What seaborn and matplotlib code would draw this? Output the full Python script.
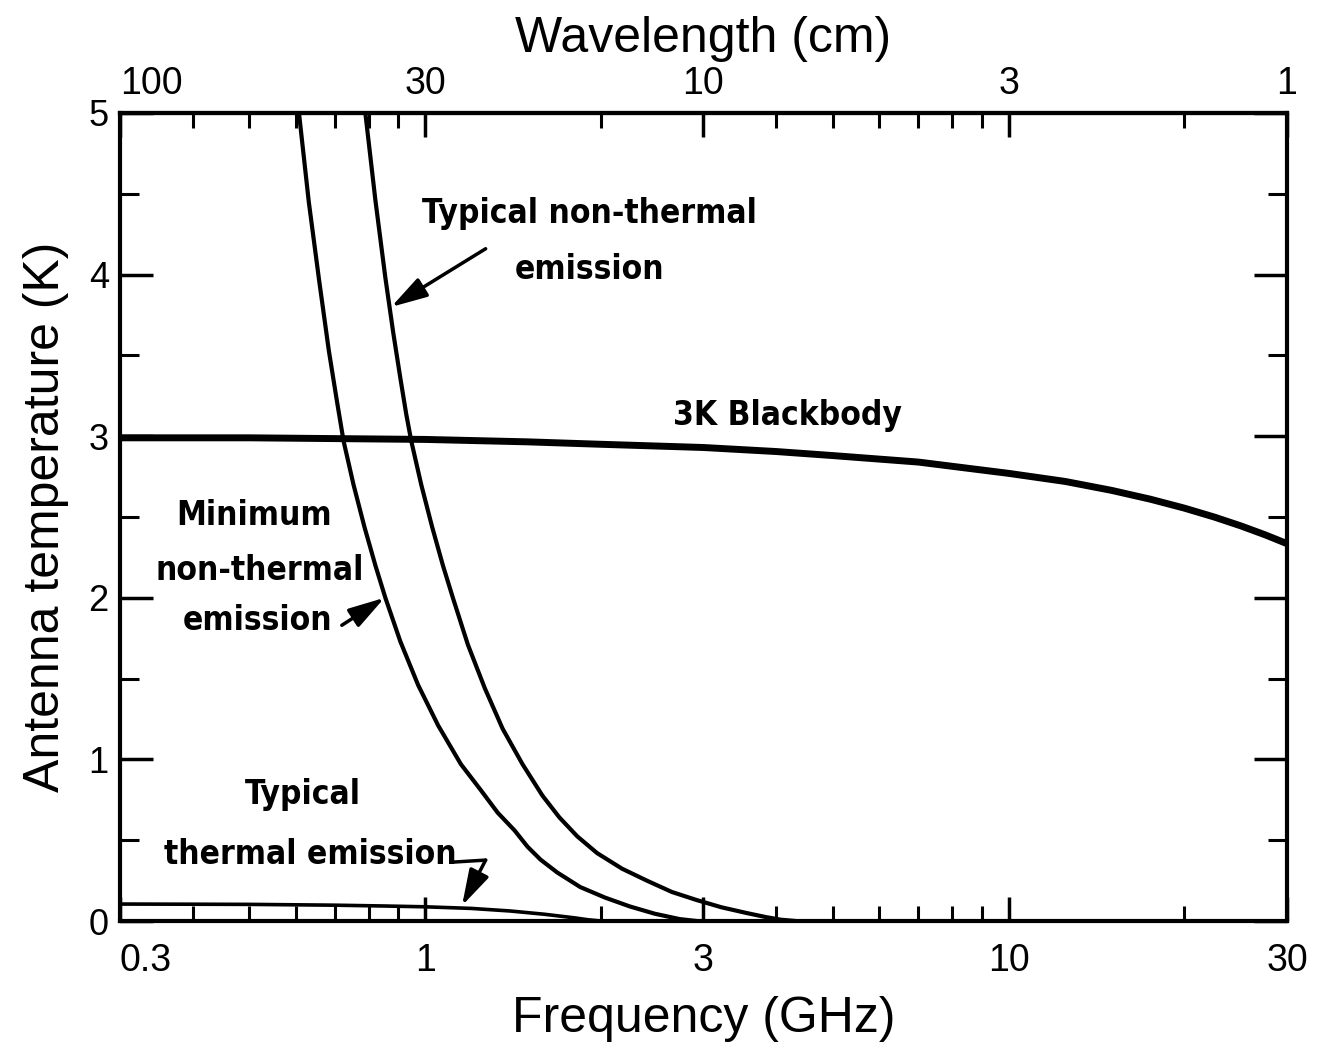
import numpy as np
import pandas as pd
import seaborn as sns
import matplotlib
matplotlib.use("Agg")
import matplotlib.pyplot as plt
from matplotlib import font_manager as fm
from matplotlib.ticker import FixedLocator, FixedFormatter, NullFormatter

# ---- data (frequency in GHz, antenna temperature in K) ----
freq_bb = [0.3, 0.5, 1.0, 1.5, 2.0, 3.0, 4.0, 5.0, 7.0, 10.0, 12.5, 15.0,
           17.5, 20.0, 22.5, 25.0, 27.5, 30.0]
temp_bb = [2.99, 2.99, 2.98, 2.965, 2.95, 2.93, 2.905, 2.88, 2.84, 2.77, 2.72,
           2.665, 2.61, 2.555, 2.50, 2.445, 2.39, 2.335]

freq_typ_nt = [0.790, 0.822, 0.855, 0.882, 0.907, 0.928, 0.947, 0.985, 1.028,
               1.073, 1.116, 1.184, 1.266, 1.358, 1.469, 1.589, 1.699, 1.823,
               1.972, 2.175, 2.399, 2.647, 2.919, 3.220, 3.551, 3.841, 4.074, 4.32]
temp_typ_nt = [5.0, 4.46, 3.98, 3.64, 3.36, 3.14, 2.97, 2.70, 2.44,
               2.20, 2.0, 1.71, 1.44, 1.19, 0.97, 0.776, 0.641, 0.524,
               0.42, 0.324, 0.25, 0.18, 0.13, 0.085, 0.05, 0.024, 0.008, 0.0]

freq_min_nt = [0.608, 0.632, 0.658, 0.684, 0.706, 0.725, 0.754, 0.787, 0.822,
               0.855, 0.907, 0.973, 1.053, 1.152, 1.246, 1.332, 1.424, 1.498,
               1.577, 1.685, 1.845, 2.034, 2.244, 2.476, 2.73, 2.92]
temp_min_nt = [5.0, 4.45, 3.97, 3.53, 3.22, 2.97, 2.70, 2.44, 2.20,
               2.0, 1.73, 1.46, 1.21, 0.97, 0.81, 0.67, 0.56, 0.46,
               0.38, 0.30, 0.21, 0.145, 0.09, 0.045, 0.012, 0.0]

freq_th = [0.3, 0.4, 0.5, 0.7, 0.85, 1.0, 1.2, 1.4, 1.6, 1.8, 1.9, 2.0]
temp_th = [0.105, 0.104, 0.103, 0.098, 0.093, 0.088, 0.078, 0.062, 0.042,
           0.02, 0.008, 0.0]

freq_ticks = [0.3, 1, 3, 10, 30]
freq_labels = ["0.3", "1", "3", "10", "30"]
freq_minor = [0.4, 0.5, 0.6, 0.7, 0.8, 0.9, 2, 4, 5, 6, 7, 8, 9, 20]

wl_ticks = [100, 30, 10, 3, 1]
wl_labels = ["100", "30", "10", "3", "1"]
wl_minor = [75, 60, 50, 30 / 0.7, 37.5, 30 / 0.9, 15, 7.5, 6, 5, 30 / 7, 3.75, 30 / 9, 1.5]

temp_ticks = [0, 1, 2, 3, 4, 5]
temp_minor = [0.5, 1.5, 2.5, 3.5, 4.5]

# ---- style ----
sns.set_theme(style="ticks")
plt.rcParams["font.family"] = ["Liberation Sans", "DejaVu Sans"]
plt.rcParams["axes.linewidth"] = 3.0


def narrow_bold_font():
    """Return a condensed/narrow bold face if one is installed."""
    best = None
    for f in fm.fontManager.ttflist:
        name = f.name.lower()
        narrow = ("narrow" in name or "condensed" in name or
                  str(f.stretch) in ("condensed", "semi-condensed",
                                     "extra-condensed", "ultra-condensed"))
        if not narrow:
            continue
        if "italic" in f.style or "oblique" in f.style:
            continue
        weight = f.weight if isinstance(f.weight, int) else (
            700 if "bold" in str(f.weight) else 400)
        score = abs(weight - 700)
        if best is None or score < best[0]:
            best = (score, f.fname)
    return best[1] if best else None


narrow_path = narrow_bold_font()
if narrow_path:
    note_font = fm.FontProperties(fname=narrow_path, size=24)
else:
    note_font = fm.FontProperties(family=["Liberation Sans", "DejaVu Sans"],
                                  weight="bold", size=23)

fig = plt.figure(figsize=(13.21, 10.49), dpi=100)
ax = fig.add_axes([0.0908, 0.1220, 0.8835, 0.7703])

curves = pd.concat([
    pd.DataFrame({"freq": freq_bb, "temp": temp_bb, "curve": "blackbody"}),
    pd.DataFrame({"freq": freq_typ_nt, "temp": temp_typ_nt, "curve": "typical_nt"}),
    pd.DataFrame({"freq": freq_min_nt, "temp": temp_min_nt, "curve": "minimum_nt"}),
    pd.DataFrame({"freq": freq_th, "temp": temp_th, "curve": "thermal"}),
])
widths = {"blackbody": 5.0, "typical_nt": 3.0, "minimum_nt": 3.0, "thermal": 2.6}
for name, sub in curves.groupby("curve", sort=False):
    sns.lineplot(data=sub, x="freq", y="temp", ax=ax, color="black",
                 linewidth=widths[name], estimator=None, legend=False)

ax.set_xscale("log")
ax.set_xlim(0.3, 30)
ax.set_ylim(0, 5)

# bottom frequency axis
ax.xaxis.set_major_locator(FixedLocator(freq_ticks))
ax.xaxis.set_major_formatter(FixedFormatter(freq_labels))
ax.xaxis.set_minor_locator(FixedLocator(freq_minor))
ax.xaxis.set_minor_formatter(NullFormatter())
ax.tick_params(axis="x", which="major", direction="in", length=17, width=2.5,
               labelsize=27, pad=16, top=False, colors="black")
ax.tick_params(axis="x", which="minor", direction="in", length=11, width=2.2,
               top=False, colors="black")

# temperature axis (ticks on both sides)
ax.yaxis.set_major_locator(FixedLocator(temp_ticks))
ax.yaxis.set_minor_locator(FixedLocator(temp_minor))
ax.yaxis.set_minor_formatter(NullFormatter())
ax.tick_params(axis="y", which="major", direction="in", length=24, width=2.5,
               labelsize=26, pad=8, left=True, right=True, colors="black")
ax.tick_params(axis="y", which="minor", direction="in", length=14, width=2.2,
               left=True, right=True, colors="black")
ax.xaxis.get_major_ticks()[0].label1.set_horizontalalignment("left")

ax.set_xlabel("Frequency (GHz)", fontsize=36, labelpad=12, color="black")
ax.set_ylabel("Antenna temperature (K)", fontsize=36, labelpad=14, color="black")


# top wavelength axis (cm)
def ghz_to_cm(f):
    with np.errstate(divide="ignore"):
        return 30.0 / np.asarray(f, dtype=float)


def cm_to_ghz(w):
    with np.errstate(divide="ignore"):
        return 30.0 / np.asarray(w, dtype=float)


sec = ax.secondary_xaxis("top", functions=(ghz_to_cm, cm_to_ghz))
sec.xaxis.set_major_locator(FixedLocator(wl_ticks))
sec.xaxis.set_major_formatter(FixedFormatter(wl_labels))
sec.xaxis.set_minor_locator(FixedLocator(wl_minor))
sec.xaxis.set_minor_formatter(NullFormatter())
sec.tick_params(which="major", direction="in", length=17, width=2.5,
                labelsize=27, pad=8, colors="black")
sec.tick_params(which="minor", direction="in", length=11, width=2.2, colors="black")
sec.spines["top"].set_linewidth(3.0)
sec.set_xlabel("Wavelength (cm)", fontsize=36, labelpad=10, color="black")
sec.xaxis.get_major_ticks()[0].label2.set_horizontalalignment("left")

for s in ax.spines.values():
    s.set_linewidth(3.0)
    s.set_color("black")

# ---- annotations ----
note = dict(fontproperties=note_font, color="black", ha="center", va="center")
ax.text(1.91, 4.38, "Typical non-thermal", **note)
ax.text(1.91, 4.03, "emission", **note)
ax.text(4.18, 3.13, "3K Blackbody", **note)
ax.text(0.51, 2.51, "Minimum", **note)
ax.text(0.52, 2.17, "non-thermal", **note)
ax.text(0.516, 1.86, "emission", **note)
ax.text(0.617, 0.78, "Typical", **note)
ax.text(0.636, 0.41, "thermal emission", **note)

arrow = dict(arrowstyle="-|>,head_length=1.1,head_width=0.32", color="black",
             lw=2.5, shrinkA=0, shrinkB=0, mutation_scale=20)
ax.annotate("", xy=(0.875, 3.80), xytext=(1.27, 4.16), arrowprops=arrow)
ax.annotate("", xy=(0.852, 2.0), xytext=(0.72, 1.83), arrowprops=arrow)
ax.plot([1.121, 1.27], [0.365, 0.377], color="black", lw=2.5)
ax.annotate("", xy=(1.157, 0.095), xytext=(1.27, 0.377), arrowprops=arrow)

fig.savefig("out.png", dpi=100, facecolor="white")
